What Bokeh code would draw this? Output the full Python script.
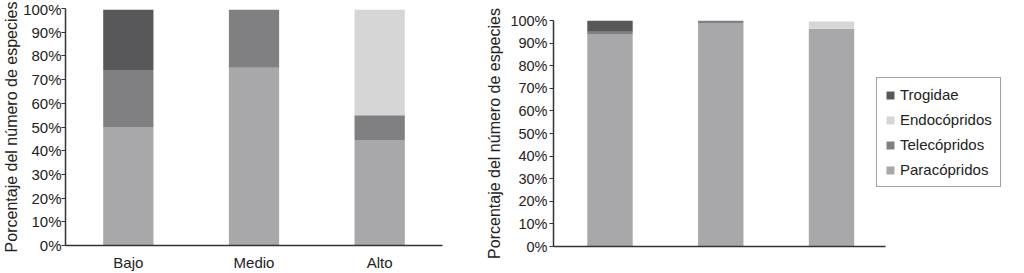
from bokeh.plotting import figure
from bokeh.layouts import row, column
from bokeh.models import (ColumnDataSource, FactorRange, Range1d, FixedTicker,
                          PrintfTickFormatter, Legend, LegendItem)
from bokeh.embed import file_html
from bokeh.resources import INLINE

# ---- data ----
categories = ["Bajo", "Medio", "Alto"]
groups = ["Paracópridos", "Telecópridos", "Endocópridos", "Trogidae"]

left_paracopridos = [50, 75, 44.5]
left_telecopridos = [24, 24.5, 10.5]
left_endocopridos = [0, 0, 44.5]
left_trogidae = [25.5, 0, 0]

right_paracopridos = [94, 98.7, 96.3]
right_telecopridos = [1, 1.3, 0]
right_endocopridos = [0, 0, 3.3]
right_trogidae = [5, 0, 0]

y_ticks = [0, 10, 20, 30, 40, 50, 60, 70, 80, 90, 100]

colors = ["#a8a8ab", "#808083", "#d6d6d6", "#58585a"]
FONT = "Liberation Sans"
TXT = "#222222"
AX = "#333333"


def style(p, size, std):
    p.outline_line_color = None
    p.xgrid.grid_line_color = None
    p.ygrid.grid_line_color = None
    p.yaxis.ticker = FixedTicker(ticks=y_ticks)
    p.yaxis.formatter = PrintfTickFormatter(format="%d%%")
    p.yaxis.axis_label = "Porcentaje del número de especies"
    p.yaxis.axis_label_text_font = FONT
    p.yaxis.axis_label_text_font_style = "normal"
    p.yaxis.axis_label_text_font_size = "16px"
    p.yaxis.axis_label_text_color = TXT
    p.yaxis.axis_label_standoff = std
    p.yaxis.major_label_standoff = 0
    p.yaxis.major_tick_in = 0
    p.yaxis.major_tick_out = 4
    p.yaxis.minor_tick_line_color = None
    for ax in (p.xaxis[0], p.yaxis[0]):
        ax.axis_line_color = AX
        ax.axis_line_width = 1.5
        ax.major_tick_line_color = AX
        ax.major_tick_line_width = 1.2
        ax.major_label_text_font = FONT
        ax.major_label_text_font_size = size
        ax.major_label_text_color = TXT
    p.xaxis.major_tick_in = 0
    p.xaxis.major_tick_out = 0
    p.xaxis.minor_tick_line_color = None


# ---- left chart ----
src1 = ColumnDataSource(dict(cat=categories,
                             **{"Paracópridos": left_paracopridos,
                                "Telecópridos": left_telecopridos,
                                "Endocópridos": left_endocopridos,
                                "Trogidae": left_trogidae}))
p1 = figure(x_range=FactorRange(factors=categories), y_range=Range1d(0, 100),
            width=470, height=273, output_backend="svg", toolbar_location=None,
            min_border_left=63, min_border_right=28, min_border_top=8,
            min_border_bottom=25)
p1.vbar_stack(groups, x="cat", width=0.4, color=colors, line_color=None, source=src1)
style(p1, "15px", 0)
p1.xaxis.major_label_standoff = 8

# ---- right chart ----
src2 = ColumnDataSource(dict(pos=list(range(len(categories))),
                             **{"Paracópridos": right_paracopridos,
                                "Telecópridos": right_telecopridos,
                                "Endocópridos": right_endocopridos,
                                "Trogidae": right_trogidae}))
x_lo, x_hi, x_view = -0.51, 2.49, 3.67
p2 = figure(x_range=Range1d(x_lo, x_view), y_range=Range1d(0, 100),
            width=554, height=273, output_backend="svg", toolbar_location=None,
            min_border_left=83, min_border_right=8, min_border_top=20,
            min_border_bottom=27)
rs = p2.vbar_stack(groups, x="pos", width=0.41, color=colors, line_color=None, source=src2)
style(p2, "14.5px", 4)
p2.yaxis.major_label_standoff = 2
p2.xaxis.ticker = FixedTicker(ticks=[])
p2.xaxis.bounds = (x_lo, x_hi)

items = [LegendItem(label=g, renderers=[r]) for g, r in zip(groups, rs)][::-1]
legend = Legend(items=items, location=(323, 59), orientation="vertical",
                border_line_color="#444444", border_line_width=1.5,
                background_fill_color="white", background_fill_alpha=1,
                label_text_font=FONT, label_text_font_size="15px",
                label_text_color=TXT, glyph_width=10, glyph_height=10,
                label_height=17, spacing=8, padding=8, label_standoff=5,
                margin=0)
p2.add_layout(legend, "center")

layout = row(column(p1), column(p2))
open("out.html", "w").write(file_html(layout, INLINE))
